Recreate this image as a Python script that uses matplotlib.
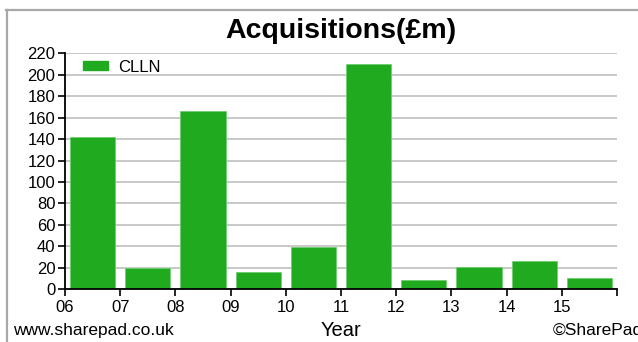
import matplotlib.pyplot as plt
from matplotlib.lines import Line2D
from matplotlib.patches import Patch

plt.rcParams['font.family'] = ['Liberation Sans', 'DejaVu Sans']

years = ['06', '07', '08', '09', '10', '11', '12', '13', '14', '15']
acquisitions = [142, 20, 166, 16, 39, 210, 9, 21, 26, 11]
yticks = list(range(0, 221, 20))

W, H = 638, 342
fig = plt.figure(figsize=(W / 100, H / 100), dpi=100)

# axes box in pixels: x 65..617, y 53..289
ax = fig.add_axes([65 / W, (H - 289.3) / H, (617 - 65) / W, (289.3 - 53.3) / H])

pos = [i + 0.5 for i in range(len(years))]
ax.bar(pos, acquisitions, width=0.82, color='#1faa1f', edgecolor='#6fcf6f',
       linewidth=0.6, zorder=3)

ax.set_xlim(0, len(years))
ax.set_ylim(0, 220)
ax.set_yticks(yticks)
ax.set_xticks(range(len(years) + 1))
ax.set_xticklabels(years + [''])
ax.grid(axis='y', color='#c4c4c4', linewidth=1.3, zorder=0)
ax.tick_params(axis='both', labelsize=12, length=5, width=1.2, color='black', pad=2)
ax.tick_params(axis='x', pad=3)
for s in ['top', 'right']:
    ax.spines[s].set_visible(False)
for s in ['left', 'bottom']:
    ax.spines[s].set_linewidth(1.3)
    ax.spines[s].set_zorder(4)

leg = ax.legend(handles=[Patch(color='#1faa1f', label='CLLN')], loc='center left',
                bbox_to_anchor=(83 / W, 1 - 67 / H), bbox_transform=fig.transFigure,
                frameon=False, fontsize=12, borderpad=0, borderaxespad=0,
                handlelength=1.5, handleheight=0.45, handletextpad=0.6)

fig.text(341 / W, 1 - 31 / H, 'Acquisitions(£m)', ha='center', va='center',
         fontsize=20.5, fontweight='bold')
fig.text(341 / W, 1 - 331 / H, 'Year', ha='center', va='center', fontsize=14.5)
fig.text(13 / W, 1 - 330 / H, 'www.sharepad.co.uk', ha='left', va='center', fontsize=12.5)
fig.text(553 / W, 1 - 330 / H, '©SharePad', ha='left', va='center', fontsize=12.5)

# outer grey frame (cut off at the right and bottom)
fig.add_artist(Line2D([6 / W, 1], [1 - 10 / H, 1 - 10 / H], color='#a8a8a8', linewidth=1.6))
fig.add_artist(Line2D([6.5 / W, 6.5 / W], [0, 1 - 10 / H], color='#a8a8a8', linewidth=1.6))

fig.savefig('out.png', dpi=100)
